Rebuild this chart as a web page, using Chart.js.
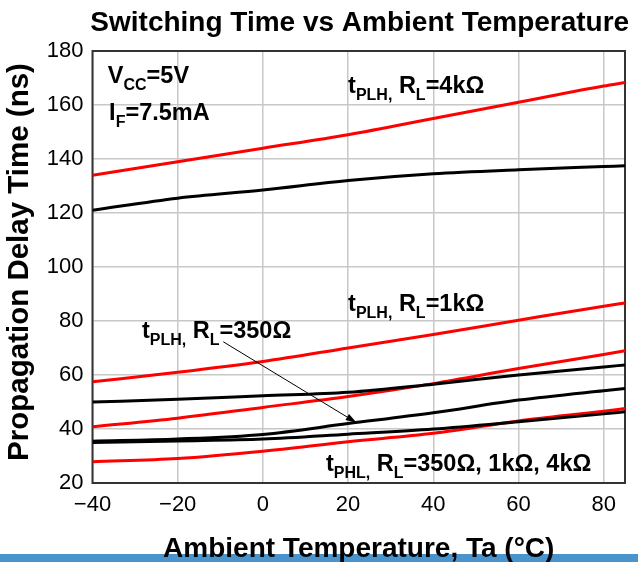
<!DOCTYPE html>
<html>
<head>
<meta charset="utf-8">
<script src="https://cdn.jsdelivr.net/npm/chart.js@4.4.0/dist/chart.umd.min.js"></script>
<style>
  body { margin: 0; background: #fff; }
  canvas { display: block; }
</style>
</head>
<body>
<canvas id="chart" width="638" height="562"></canvas>
<script>
// temperatures (°C) where the curves were read
const temps = [-40, -20, 0, 20, 40, 60, 80, 85];

// propagation delay (ns)
const plh4kRed = [134, 139, 144, 149, 155, 161, 167, 168.3];
const plh4kBlack = [121, 125.5, 128.5, 132, 134.5, 136, 137.2, 137.5];
const plh1kRed = [57.5, 61, 65, 70, 75, 80.3, 85.5, 86.7];
const plh1kBlack = [50, 51, 52.3, 53.6, 56.6, 60, 63, 63.7];
const plh350Red = [40.8, 44, 48, 52, 56.8, 62.4, 67.6, 69];
const plh350Black = [35.5, 36.3, 38, 42, 46, 50.7, 54.2, 55];
const phlBlack = [35, 35.6, 36.3, 38.1, 40, 42.7, 45.6, 46.4];
const phlRed = [27.9, 29.1, 31.8, 35.3, 38.4, 43, 46.6, 47.6];

const xTicks = [-40, -20, 0, 20, 40, 60, 80];
const yTicks = [20, 40, 60, 80, 100, 120, 140, 160, 180];

const FONT = '"Liberation Sans", Arial, sans-serif';

function pts(ys) {
    return temps.map((t, i) => ({ x: t, y: ys[i] }));
}

function curve(label, ys, color) {
    return {
        label: label,
        data: pts(ys),
        borderColor: color,
        borderWidth: 3,
        pointRadius: 0,
        fill: false,
        cubicInterpolationMode: "monotone",
    };
}

// text labels on the plot, anchored in data coordinates
const notes = [
    { x: -36.4, y: 168, parts: [["V"], ["CC", 1], ["=5V"]] },
    { x: -36.1, y: 154.3, parts: [["I"], ["F", 1], ["=7.5mA"]] },
    { x: 20, y: 164.4, parts: [["t"], ["PLH,", 1], [" R"], ["L", 1], ["=4kΩ"]] },
    { x: 20, y: 83.7, parts: [["t"], ["PLH,", 1], [" R"], ["L", 1], ["=1kΩ"]] },
    { x: -28.4, y: 73.6, parts: [["t"], ["PLH,", 1], [" R"], ["L", 1], ["=350Ω"]] },
    { x: 14.8, y: 24.6, parts: [["t"], ["PHL,", 1], [" R"], ["L", 1], ["=350Ω, 1kΩ, 4kΩ"]] },
];
const arrowFrom = [-9.3, 72.3];
const arrowTo = [22, 42.3];

const decorations = {
    id: "decorations",
    beforeDatasetsDraw(chart) {
        const { ctx, chartArea: a } = chart;
        ctx.save();
        ctx.strokeStyle = "#333";
        ctx.lineWidth = 2;
        ctx.strokeRect(a.left, a.top, a.right - a.left, a.bottom - a.top);
        ctx.restore();
    },
    afterDraw(chart) {
        const { ctx, chartArea: a } = chart;
        const xs = chart.scales.x, ys = chart.scales.y;
        const cx = (a.left + a.right) / 2;
        ctx.save();
        ctx.fillStyle = "#000";

        // title
        ctx.font = "bold 28px " + FONT;
        ctx.textAlign = "center";
        ctx.textBaseline = "alphabetic";
        ctx.fillText("Switching Time vs Ambient Temperature", cx + 1, 31);

        // blue strip at the bottom
        ctx.fillStyle = "#4a94cd";
        ctx.fillRect(0, 554, 638, 8);
        ctx.fillStyle = "#000";
        ctx.fillText("Ambient Temperature, Ta (°C)", cx, 557);

        // y title
        ctx.save();
        ctx.font = "bold 29.5px " + FONT;
        ctx.translate(28, (a.top + a.bottom) / 2 - 5);
        ctx.rotate(-Math.PI / 2);
        ctx.fillText("Propagation Delay Time (ns)", 0, 0);
        ctx.restore();

        // notes with subscripts
        ctx.textAlign = "left";
        notes.forEach(n => {
            let px = xs.getPixelForValue(n.x);
            const py = ys.getPixelForValue(n.y);
            n.parts.forEach(([t, sub]) => {
                ctx.font = sub ? "bold 16px " + FONT : "bold 23.5px " + FONT;
                ctx.fillText(t, px, py + (sub ? 7 : 0));
                px += ctx.measureText(t).width;
            });
        });

        // leader arrow
        const x1 = xs.getPixelForValue(arrowFrom[0]), y1 = ys.getPixelForValue(arrowFrom[1]);
        const x2 = xs.getPixelForValue(arrowTo[0]), y2 = ys.getPixelForValue(arrowTo[1]);
        const ang = Math.atan2(y2 - y1, x2 - x1);
        ctx.strokeStyle = "#000";
        ctx.lineWidth = 1;
        ctx.beginPath();
        ctx.moveTo(x1, y1);
        ctx.lineTo(x2 - 8 * Math.cos(ang), y2 - 8 * Math.sin(ang));
        ctx.stroke();
        ctx.beginPath();
        ctx.moveTo(x2, y2);
        ctx.lineTo(x2 - 11 * Math.cos(ang) + 3.5 * Math.sin(ang), y2 - 11 * Math.sin(ang) - 3.5 * Math.cos(ang));
        ctx.lineTo(x2 - 11 * Math.cos(ang) - 3.5 * Math.sin(ang), y2 - 11 * Math.sin(ang) + 3.5 * Math.cos(ang));
        ctx.closePath();
        ctx.fill();
        ctx.restore();
    },
};

new Chart(document.getElementById("chart"), {
    type: "line",
    data: {
        datasets: [
            curve("tPLH 4k A", plh4kRed, "#ff0000"),
            curve("tPLH 4k B", plh4kBlack, "#000000"),
            curve("tPLH 1k A", plh1kRed, "#ff0000"),
            curve("tPLH 1k B", plh1kBlack, "#000000"),
            curve("tPLH 350 A", plh350Red, "#ff0000"),
            curve("tPLH 350 B", plh350Black, "#000000"),
            curve("tPHL B", phlBlack, "#000000"),
            curve("tPHL A", phlRed, "#ff0000"),
        ],
    },
    options: {
        responsive: false,
        animation: false,
        layout: { padding: { left: 0, top: 51, right: 13, bottom: 0 } },
        plugins: {
            legend: { display: false },
            tooltip: { enabled: false },
        },
        scales: {
            x: {
                type: "linear",
                min: -40,
                max: 85,
                afterBuildTicks: s => { s.ticks = xTicks.map(v => ({ value: v })); },
                afterFit: s => { s.height = 79; },
                ticks: {
                    color: "#000",
                    font: { family: FONT, size: 22 },
                    padding: 9,
                    maxRotation: 0,
                    callback: v => String(v).replace("-", "\u2212"),
                },
                grid: { color: "#c8c8c8", lineWidth: 1.5, drawTicks: false },
                border: { display: false },
            },
            y: {
                min: 20,
                max: 180,
                afterBuildTicks: s => { s.ticks = yTicks.map(v => ({ value: v })); },
                afterFit: s => { s.width = 92.5; },
                ticks: {
                    color: "#000",
                    font: { family: FONT, size: 22 },
                    padding: 9,
                },
                grid: { color: "#c8c8c8", lineWidth: 1.5, drawTicks: false },
                border: { display: false },
            },
        },
    },
    plugins: [decorations],
});
</script>
</body>
</html>
